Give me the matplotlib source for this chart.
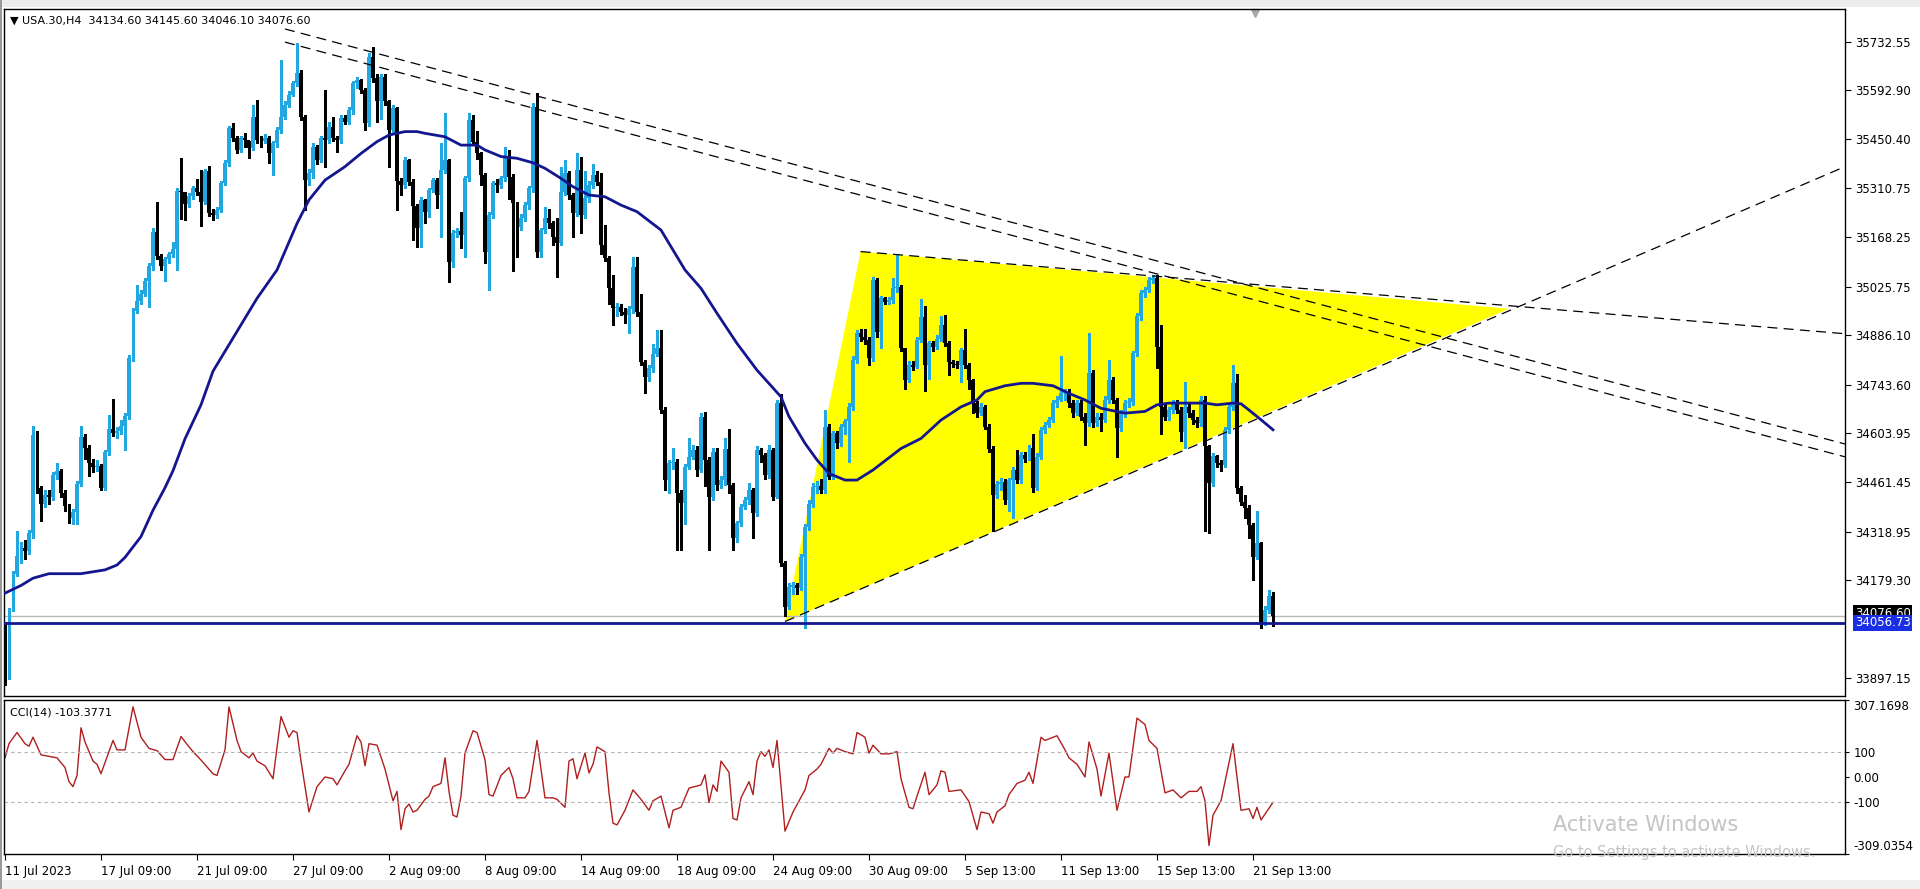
import numpy as np
import matplotlib
matplotlib.use("Agg")
import matplotlib.pyplot as plt
from matplotlib.patches import Polygon, Rectangle

# ---- USA.30 H4 bars (bar 0 = 11 Jul 2023) ----
first_open = 34044.0
closes = [
    33890, 34095, 34196, 34250, 34272, 34262, 34316, 34598, 34446, 34400,
    34424, 34418, 34484, 34495, 34430, 34392, 34359, 34375, 34457, 34592,
    34560, 34516, 34506, 34510, 34446, 34549, 34614, 34605, 34610, 34625,
    34652, 34820, 34956, 34983, 35005, 35043, 35086, 35184, 35113, 35086,
    35105, 35119, 35135, 35303, 35298, 35265, 35287, 35309, 35300, 35271,
    35358, 35238, 35233, 35247, 35324, 35382, 35482, 35454, 35420, 35454,
    35449, 35425, 35516, 35449, 35445, 35454, 35410, 35439, 35478, 35516,
    35550, 35579, 35612, 35641, 35516, 35333, 35353, 35430, 35391, 35454,
    35449, 35487, 35454, 35449, 35511, 35502, 35535, 35612, 35622, 35593,
    35497, 35689, 35627, 35560, 35631, 35560, 35478, 35540, 35330, 35319,
    35391, 35329, 35257, 35194, 35276, 35242, 35305, 35333, 35290, 35362,
    35390, 35098, 35180, 35185, 35175, 35338, 35506, 35444, 35410, 35348,
    35127, 35233, 35324, 35320, 35338, 35401, 35343, 35266, 35199, 35223,
    35261, 35309, 35545, 35127, 35189, 35223, 35208, 35170, 35151, 35300,
    35353, 35290, 35237, 35362, 35232, 35281, 35319, 35348, 35329, 35146,
    35108, 35021, 34963, 34968, 34954, 34945, 34960, 35083, 34953, 34809,
    34766, 34790, 34833, 34848, 34670, 34468, 34516, 34520, 34430, 34401,
    34506, 34535, 34555, 34497, 34651, 34526, 34420, 34550, 34455, 34468,
    34559, 34454, 34300, 34343, 34391, 34410, 34439, 34372, 34555, 34540,
    34482, 34555, 34420, 34689, 34228, 34103, 34160, 34165, 34156, 34247,
    34333, 34400, 34449, 34452, 34439, 34622, 34478, 34603, 34574, 34622,
    34637, 34679, 34814, 34891, 34881, 34872, 34819, 35045, 34896, 34992,
    34982, 34987, 35021, 35025, 34848, 34756, 34800, 34795, 34872, 34939,
    34800, 34862, 34852, 34876, 34915, 34862, 34809, 34804, 34800, 34843,
    34800, 34756, 34689, 34660, 34679, 34622, 34559, 34425, 34458, 34462,
    34410, 34468, 34497, 34468, 34540, 34530, 34560, 34444, 34535, 34612,
    34626, 34641, 34690, 34699, 34718, 34722, 34690, 34661, 34690, 34651,
    34632, 34776, 34632, 34651, 34642, 34699, 34757, 34699, 34617, 34661,
    34690, 34694, 34834, 34940, 35007, 35017, 35045, 35050, 34853, 34680,
    34651, 34670, 34690, 34670, 34608, 34680, 34661, 34642, 34632, 34699,
    34565, 34459, 34536, 34517, 34512, 34613, 34680, 34747, 34444, 34406,
    34387, 34339, 34247, 34286, 34060, 34094, 34134.6, 34076.6,
]
highs = [
    34060, 34100, 34205, 34321, 34290, 34295, 34325, 34625, 34609, 34450,
    34440, 34440, 34490, 34516, 34500, 34440, 34400, 34385, 34465, 34625,
    34600, 34570, 34530, 34525, 34515, 34555, 34655, 34701, 34620, 34640,
    34660, 34830, 34965, 35032, 35015, 35050, 35095, 35195, 35271, 35120,
    35110, 35125, 35155, 35310, 35396, 35300, 35295, 35315, 35336, 35363,
    35365, 35375, 35250, 35255, 35330, 35390, 35490, 35499, 35460, 35460,
    35470, 35445, 35550, 35564, 35460, 35465, 35460, 35445, 35485, 35679,
    35560, 35590, 35620, 35728, 35650, 35520, 35365, 35440, 35435, 35460,
    35593, 35500, 35516, 35460, 35520, 35520, 35545, 35620, 35630, 35625,
    35600, 35700, 35718, 35640, 35640, 35640, 35565, 35550, 35545, 35340,
    35400, 35395, 35335, 35265, 35285, 35280, 35310, 35340, 35340, 35440,
    35526, 35395, 35190, 35195, 35240, 35345, 35526, 35520, 35475, 35415,
    35355, 35240, 35330, 35335, 35345, 35430, 35420, 35350, 35270, 35235,
    35270, 35315, 35555, 35583, 35195, 35255, 35250, 35215, 35225, 35370,
    35390, 35360, 35295, 35410, 35400, 35360, 35330, 35380, 35360, 35355,
    35205, 35115, 35060, 34980, 34975, 34965, 34970, 35110, 35110, 35005,
    34815, 34800, 34860, 34900, 34900, 34680, 34525, 34560, 34530, 34440,
    34515, 34590, 34570, 34565, 34660, 34665, 34535, 34560, 34560, 34480,
    34590, 34615, 34460, 34350, 34400, 34420, 34460, 34445, 34565, 34560,
    34545, 34570, 34560, 34700, 34715, 34235, 34170, 34175, 34170, 34255,
    34340, 34410, 34460, 34465, 34470, 34670, 34630, 34610, 34610, 34630,
    34645, 34690, 34825, 34900, 34905, 34905, 34880, 35055, 35050, 35000,
    34995, 34995, 35050, 35120, 35030, 34850, 34810, 34810, 34880, 34990,
    34970, 34870, 34870, 34885, 34940, 34945, 34870, 34815, 34810, 34850,
    34905, 34805, 34760, 34695, 34690, 34685, 34630, 34565, 34465, 34475,
    34470, 34475, 34505, 34555, 34550, 34548, 34570, 34600, 34545, 34620,
    34635, 34650, 34700, 34710, 34825, 34730, 34730, 34700, 34700, 34700,
    34660, 34893, 34785, 34660, 34660, 34710, 34815, 34765, 34705, 34670,
    34700, 34705, 34840, 34950, 35015, 35025, 35055, 35060, 35060, 34915,
    34690, 34680, 34700, 34700, 34680, 34750, 34690, 34670, 34650, 34710,
    34710, 34570, 34545, 34540, 34525, 34620, 34690, 34800, 34775, 34450,
    34425, 34395, 34345, 34380, 34290, 34105, 34150, 34145.6,
]
lows = [
    33876, 33965, 34090, 34190, 34230, 34240, 34255, 34300, 34430, 34350,
    34390, 34400, 34410, 34470, 34420, 34380, 34345, 34340, 34340, 34450,
    34530, 34480, 34490, 34495, 34440, 34440, 34540, 34595, 34590, 34600,
    34554, 34645, 34810, 34950, 34975, 35000, 34968, 35075, 35105, 35075,
    35043, 35095, 35110, 35075, 35222, 35217, 35255, 35280, 35290, 35200,
    35265, 35230, 35218, 35225, 35240, 35320, 35375, 35445, 35410, 35415,
    35430, 35396, 35420, 35440, 35430, 35440, 35382, 35348, 35430, 35470,
    35510, 35545, 35575, 35605, 35505, 35247, 35320, 35340, 35380, 35385,
    35372, 35440, 35445, 35415, 35440, 35495, 35495, 35525, 35600, 35585,
    35478, 35490, 35615, 35500, 35510, 35550, 35372, 35470, 35247, 35290,
    35310, 35320, 35160, 35141, 35141, 35210, 35228, 35300, 35252, 35170,
    35355, 35040, 35083, 35170, 35136, 35112, 35330, 35435, 35395, 35320,
    35093, 35017, 35225, 35300, 35310, 35330, 35280, 35070, 35110, 35190,
    35215, 35250, 35300, 35110, 35110, 35180, 35195, 35145, 35055, 35145,
    35290, 35280, 35170, 35230, 35180, 35225, 35270, 35310, 35320, 35120,
    35100, 34976, 34915, 34940, 34945, 34920, 34891, 34950, 34940, 34800,
    34720, 34755, 34780, 34825, 34660, 34440, 34430, 34500, 34265, 34265,
    34340, 34500, 34530, 34480, 34490, 34450, 34265, 34410, 34440, 34445,
    34455, 34430, 34265, 34290, 34335, 34385, 34400, 34300, 34365, 34520,
    34470, 34475, 34410, 34415, 34220, 34075, 34095, 34140, 34140, 34150,
    34040, 34325, 34390, 34430, 34430, 34430, 34470, 34470, 34560, 34565,
    34600, 34520, 34670, 34805, 34870, 34860, 34800, 34810, 34880, 34850,
    34975, 34975, 34980, 35010, 34840, 34730, 34750, 34785, 34790, 34865,
    34725, 34760, 34840, 34845, 34870, 34855, 34770, 34795, 34790, 34750,
    34790, 34730, 34660, 34650, 34655, 34615, 34550, 34320, 34415, 34440,
    34400, 34380, 34360, 34460, 34460, 34520, 34525, 34435, 34440, 34530,
    34605, 34620, 34635, 34680, 34695, 34700, 34680, 34650, 34655, 34640,
    34570, 34625, 34620, 34625, 34610, 34635, 34690, 34690, 34535, 34610,
    34650, 34680, 34685, 34825, 34930, 34995, 35010, 35035, 34790, 34600,
    34640, 34640, 34660, 34660, 34580, 34560, 34650, 34630, 34620, 34625,
    34320, 34315, 34450, 34505, 34495, 34505, 34605, 34670, 34430, 34395,
    34360, 34300, 34180, 34240, 34040, 34050, 34085, 34046.1,
]

# moving average (blue line) read at sample bars
ma_bar = [0, 4, 7, 11, 19, 25, 28, 30, 34, 37, 40, 42, 45, 49, 52, 63, 68, 73, 76,
          80, 85, 89, 93, 96, 100, 103, 105, 110, 114, 118, 120, 124, 128, 132, 135,
          139, 142, 146, 150, 154, 158, 164, 170, 174, 178, 183, 188, 194, 196, 200,
          203, 206, 210, 213, 217, 224, 229, 234, 239, 243, 245, 250, 254, 257, 262,
          266, 270, 274, 280, 285, 288, 291, 295, 300, 303, 307, 309, 311, 314, 317]
ma_val = [34142, 34164, 34185, 34198, 34198, 34209, 34223, 34245, 34305, 34381,
          34446, 34495, 34587, 34685, 34782, 34992, 35074, 35208, 35276, 35333,
          35372, 35410, 35444, 35463, 35473, 35473, 35468, 35458, 35434, 35434,
          35420, 35401, 35396, 35383, 35367, 35338, 35314, 35290, 35285, 35261,
          35242, 35189, 35074, 35021, 34949, 34862, 34785, 34708, 34651, 34574,
          34526, 34487, 34468, 34468, 34497, 34559, 34588, 34641, 34679, 34699,
          34723, 34740, 34747, 34747, 34740, 34718, 34699, 34675, 34661, 34666,
          34685, 34690, 34690, 34690, 34685, 34690, 34688, 34670, 34642, 34613]

# CCI(14) read at sample bars
cci_bar = [0, 1, 3, 5, 6, 7, 9, 11, 13, 15, 16, 17, 18, 19, 20, 22, 23, 24, 26, 27,
           28, 30, 32, 34, 36, 38, 40, 42, 44, 46, 47, 49, 52, 53, 55, 56, 58, 59, 61,
           62, 63, 65, 67, 69, 71, 72, 73, 74, 76, 77, 78, 80, 82, 83, 85, 86, 88, 89,
           90, 91, 93, 95, 96, 97, 98, 99, 100, 101, 102, 103, 105, 106, 107, 109, 110,
           111, 112, 113, 114, 115, 117, 118, 120, 121, 122, 124, 126, 127, 128, 130,
           131, 133, 135, 137, 138, 140, 141, 142, 143, 145, 146, 147, 148, 150, 151,
           152, 153, 155, 157, 159, 161, 162, 164, 166, 167, 169, 171, 174, 175, 176,
           177, 178, 179, 181, 182, 183, 184, 186, 187, 188, 189, 190, 191, 192, 193,
           195, 197, 200, 201, 203, 204, 206, 207, 208, 210, 212, 213, 215, 216, 217,
           219, 221, 223, 224, 226, 227, 228, 230, 231, 233, 234, 235, 236, 239, 241,
           243, 244, 246, 247, 248, 250, 251, 253, 255, 256, 257, 259, 260, 263, 265,
           266, 268, 270, 271, 273, 274, 276, 278, 280, 281, 283, 285, 286, 288, 290,
           292, 294, 296, 298, 299, 300, 301, 302, 304, 307, 309, 311, 312, 313, 314, 317]
cci_val = [76, 133, 178, 133, 123, 159, 88, 82, 76, 37, -20, -40, 5, 197, 140, 63, 50,
           12, 101, 146, 108, 108, 281, 159, 114, 105, 69, 69, 162, 120, 101, 67, 12, 5,
           108, 281, 146, 101, 76, 95, 63, 44, -8, 242, 159, 185, 178, 63, -142, -91,
           -40, -1, -8, -33, 24, 50, 165, 140, 44, 133, 127, 31, -33, -97, -59, -213,
           -129, -110, -142, -135, -91, -78, -40, -27, 76, -59, -155, -162, -78, 95,
           185, 178, 69, -72, -78, 5, 37, -8, -85, -85, -59, 146, -85, -85, -91, -123,
           63, 72, -8, 95, 15, 50, 120, 101, -65, -187, -194, -135, -53, -91, -135, -97,
           -78, -206, -135, -123, -46, -33, 8, -104, -33, -59, 63, 18, -168, -174, -85,
           -20, -72, 63, 101, 82, 108, 37, 146, -219, -142, -53, 5, 31, 50, 114, 95,
           114, 101, 92, 178, 159, 95, 127, 92, 92, 101, -8, -123, -129, -78, 18, -72,
           -33, 24, 18, -59, -53, -100, -213, -142, -149, -187, -142, -117, -72, -27,
           -14, 18, -27, 159, 146, 165, 108, 76, 50, -1, 140, 31, -78, 95, -135, -1, -1,
           236, 210, 146, 114, -65, -53, -85, -59, -59, -40, -97, -277, -155, -97, 133,
           -135, -129, -168, -123, -174, -103.3771]

# drawn objects: (bar, price) end points
channel_upper = ([70, 460], [35769, 34572])
channel_lower = ([70, 460], [35731, 34535])
tri_bars = [213.9, 195, 376]
tri_prices = [35127, 34060, 34962]
tri_top_line = ([213.9, 460], [35127, 34890])
tri_bottom_line = ([195, 460], [34060, 35372])
support_level = 34056.73
last_price = 34076.60

price_ticks = [35732.55, 35592.90, 35450.40, 35310.75, 35168.25, 35025.75, 34886.10,
               34743.60, 34603.95, 34461.45, 34318.95, 34179.30, 33897.15]
cci_ticks = [307.1698, 100, 0, -100, -309.0354]
cci_tick_labels = ["307.1698", "100", "0.00", "-100", "-309.0354"]
date_bars = [0, 24, 48, 72, 96, 120, 144, 168, 192, 216, 240, 264, 288, 312]
date_labels = ["11 Jul 2023", "17 Jul 09:00", "21 Jul 09:00", "27 Jul 09:00",
               "2 Aug 09:00", "8 Aug 09:00", "14 Aug 09:00", "18 Aug 09:00",
               "24 Aug 09:00", "30 Aug 09:00", "5 Sep 13:00", "11 Sep 13:00",
               "15 Sep 13:00", "21 Sep 13:00"]

UP = "#22a7e0"
DOWN = "#000000"
NAVY = "#14168f"

W, H = 1920, 889
fig = plt.figure(figsize=(W / 100, H / 100), dpi=100)
fig.patch.set_facecolor("white")


def px_box(l, t, r, b):
    return [l / W, 1 - b / H, (r - l) / W, (b - t) / H]


# window chrome
fig.patches.append(Rectangle((0, 1 - 7 / H), 1, 7 / H, transform=fig.transFigure,
                             fc="#ededed", ec="none"))
fig.patches.append(Rectangle((0, 0), 1, 9 / H, transform=fig.transFigure,
                             fc="#f0f0f0", ec="none"))
fig.patches.append(Rectangle((0, 0), 2 / W, 1, transform=fig.transFigure,
                             fc="#9a9a9a", ec="none"))

ax = fig.add_axes(px_box(4, 8.6, 1845, 695.5))
cax = fig.add_axes(px_box(4, 700.4, 1845, 853.5))

# ---- price panel ----
x = np.arange(len(closes))
c = np.array(closes, dtype=float)
h = np.array(highs, dtype=float)
l = np.array(lows, dtype=float)
o = np.array([first_open] + closes[:-1], dtype=float)
col = np.where(c > o, UP, DOWN)

ax.add_patch(Polygon(list(zip(tri_bars, tri_prices)), closed=True, fc="#ffff00",
                     ec="none", zorder=1))
ax.vlines(x, l, h, colors=col, lw=0.8, zorder=3, antialiased=False)
body = np.maximum(np.abs(c - o), 3)
ax.bar(x, body, bottom=np.minimum(o, c), width=0.75, color=col, lw=0, zorder=3,
       antialiased=False)

ax.plot(ma_bar, ma_val, color=NAVY, lw=2, zorder=4)

for xs, ys in (channel_upper, channel_lower, tri_top_line, tri_bottom_line):
    ax.plot(xs, ys, color="black", lw=0.9, dashes=(8, 5), zorder=5)

ax.axhline(last_price, color="#b8b8b8", lw=1, zorder=2)
ax.axhline(support_level, color=NAVY, lw=2, zorder=5)

ax.set_xlim(-0.25, 460)
ax.set_ylim(33846.7, 35827.7)
ax.set_xticks([])
ax.yaxis.tick_right()
ax.set_yticks(price_ticks)
ax.set_yticklabels([f"{v:.2f}" for v in price_ticks])
ax.tick_params(axis="y", length=4, width=0.8, pad=3, labelsize=8.5)
for s in ax.spines.values():
    s.set_linewidth(1)

ax.annotate(f"{last_price:.2f}", xy=(1, last_price), xycoords=("axes fraction", "data"),
            xytext=(7, 2), textcoords="offset points", ha="left", va="center",
            fontsize=8.5, color="white", annotation_clip=False,
            bbox=dict(boxstyle="square,pad=0.12", fc="black", ec="none"))
ax.annotate(f"{support_level:.2f}", xy=(1, support_level), xycoords=("axes fraction", "data"),
            xytext=(7, 0), textcoords="offset points", ha="left", va="center",
            fontsize=8.5, color="white", annotation_clip=False,
            bbox=dict(boxstyle="square,pad=0.12", fc="#1a2ee6", ec="none"))

ax.text(0.003, 0.983, "\u25bc USA.30,H4  34134.60 34145.60 34046.10 34076.60",
        transform=ax.transAxes, fontsize=8, va="center", ha="left")
ax.plot([0.6795], [0.994], marker="v", ms=6, color="#a8a8a8", transform=ax.transAxes,
        clip_on=False)

# ---- CCI panel ----
cax.plot(cci_bar, cci_val, color="#b01e1e", lw=1)
for lvl in (100, -100):
    cax.axhline(lvl, color="#b0b0b0", lw=0.8, dashes=(3, 3))
cax.set_xlim(-0.25, 460)
cax.set_ylim(-309.0354, 307.1698)
cax.yaxis.tick_right()
cax.set_yticks(cci_ticks)
cax.set_yticklabels(cci_tick_labels)
cax.tick_params(axis="y", length=3, width=0.8, pad=3, labelsize=8.5)
yl = cax.get_yticklabels()
yl[0].set_va("top")
yl[-1].set_va("bottom")
cax.set_xticks(date_bars)
cax.set_xticklabels(date_labels, ha="left")
cax.tick_params(axis="x", length=4, width=0.8, pad=4, labelsize=8.5)
for s in cax.spines.values():
    s.set_linewidth(1)
cax.text(0.003, 0.92, "CCI(14) -103.3771", transform=cax.transAxes, fontsize=8,
         va="center", ha="left")

fig.text(1553 / W, 1 - 825 / H, "Activate Windows", fontsize=15, color="#c4c4c4",
         va="center", ha="left")
fig.text(1553 / W, 1 - 853 / H, "Go to Settings to activate Windows.", fontsize=10.5,
         color="#c4c4c4", va="center", ha="left")

fig.savefig("out.png", dpi=100, facecolor="white")
